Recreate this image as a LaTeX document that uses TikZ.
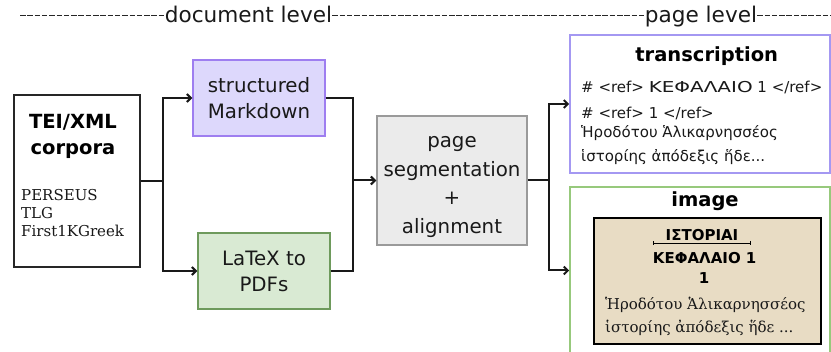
\documentclass[tikz,border=0pt]{standalone}
\usepackage{fontspec}
\usepackage{graphicx}
\setmainfont{DejaVu Sans}
\newfontfamily\serifgr{DejaVu Serif}
\usetikzlibrary{arrows.meta}
\definecolor{mdfill}{HTML}{DDD8FC}
\definecolor{mddraw}{HTML}{9E7EF0}
\definecolor{ltxfill}{HTML}{D9EAD3}
\definecolor{ltxdraw}{HTML}{6E9A5C}
\definecolor{pgfill}{HTML}{EBEBEB}
\definecolor{pgdraw}{HTML}{9A9A9A}
\definecolor{trdraw}{HTML}{A498F2}
\definecolor{imdraw}{HTML}{97C97C}
\definecolor{parchfill}{HTML}{E8DCC4}
\tikzset{
  hdr/.style={font=\fontsize{21.6pt}{24pt}\selectfont, inner sep=0pt, text=black!90},
  hdrdash/.style={line width=1pt, dash pattern=on 5.5pt off 1.8pt, black!85},
  boxtxt/.style={font=\fontsize{19.8pt}{26pt}\selectfont, align=center, text=black!90},
  teibox/.style={draw=black!85, line width=1.4pt, fill=white},
  mdbox/.style={boxtxt, draw=mddraw, line width=1.4pt, fill=mdfill},
  ltxbox/.style={boxtxt, draw=ltxdraw, line width=1.4pt, fill=ltxfill},
  pgbox/.style={draw=pgdraw, line width=1.4pt, fill=pgfill},
  pgtxt/.style={boxtxt, inner sep=0pt, font=\fontsize{19.8pt}{28.5pt}\selectfont},
  trbox/.style={draw=trdraw, line width=1.6pt, fill=white},
  imbox/.style={draw=imdraw, line width=1.6pt, fill=white},
  parch/.style={draw=black, line width=2pt, fill=parchfill},
  ttl/.style={font=\fontsize{19.5pt}{24pt}\selectfont\bfseries, inner sep=0pt},
  body/.style={font=\fontsize{15pt}{18pt}\selectfont, inner sep=0pt, text=black!90},
  serbody/.style={font=\fontsize{15pt}{18pt}\selectfont\serifgr, inner sep=0pt, text=black!90},
  boldbody/.style={font=\fontsize{15pt}{18pt}\selectfont\bfseries, inner sep=0pt},
  conn/.style={line width=2pt, black!90},
  arr/.style={conn, -{Straight Barb[length=4pt,width=8pt]}}
}
\begin{document}
\begin{tikzpicture}[x=1pt,y=-1pt]
\clip (0,0) rectangle (831,352);
% header
\node[hdr, anchor=base] (doc) at (248.5,23) {document level};
\node[hdr, anchor=base] (pgl) at (701,23) {page level};
\coordinate (hL) at (20,16);
\coordinate (hR) at (831,16);
\draw[hdrdash] (hL) -- (hL -| doc.west);
\draw[hdrdash] (hL -| doc.east) -- (hL -| pgl.west);
\draw[hdrdash] (hL -| pgl.east) -- (hR);
% TEI box
\node[teibox, minimum width=126pt, minimum height=172pt] (tei) at (77,181) {};
\node[ttl, anchor=base] (teiA) at (73,128.3) {TEI/XML};
\node[ttl, anchor=base] (teiB) at (73,155) {corpora};
\node[serbody, anchor=base west] (c1) at (21,200.7) {PERSEUS};
\node[serbody, anchor=base west] (c2) at (21,218.3) {TLG};
\node[serbody, anchor=base west] (c3) at (21,236.7) {First1KGreek};
% middle boxes
\node[mdbox, minimum width=132pt, minimum height=76pt] (md) at (259,98) {structured\\Markdown};
\node[ltxbox, minimum width=132pt, minimum height=76pt] (ltx) at (264,271) {LaTeX to\\PDFs};
\node[pgbox, minimum width=150pt, minimum height=129pt] (pg) at (452,180.5) {};
\node[pgtxt] (pgT) at (452,187) {page\\segmentation\\+\\alignment};
% transcription box
\node[trbox, minimum width=260pt, minimum height=138pt] (tr) at (700,104) {};
\node[ttl, anchor=base] (trT) at (706.7,62) {transcription};
\node[body, anchor=base west] (t1) at (581,92.7) {\# <ref> \scalebox{1.33}[1]{ΚΕΦΑΛΑΙΟ} 1 </ref>};
\node[body, anchor=base west] (t2) at (581,118.3) {\# <ref> 1 </ref>};
\node[body, anchor=base west] (t3) at (581,137.5) {Ἡροδότου Ἁλικαρνησσέος};
\node[body, anchor=base west] (t4) at (581,162) {ἱστορίης ἀπόδεξις ἥδε...};
% image box
\node[imbox, minimum width=260pt, minimum height=167pt] (im) at (700,270.5) {};
\node[ttl, anchor=base] (imT) at (705,206.7) {image};
\node[parch, minimum width=227pt, minimum height=126pt] (par) at (707.5,281) {};
\node[boldbody, anchor=base] (i1) at (702,240.3) {ΙΣΤΟΡΙΑΙ};
\coordinate (u1) at (653,243);
\coordinate (u2) at (750.5,243);
\draw[line width=0.9pt, {Bar[width=4pt]}-{Bar[width=4pt]}] (u1) -- (u2);
\node[boldbody, anchor=base] (i2) at (704.7,263.3) {ΚΕΦΑΛΑΙΟ 1};
\node[boldbody, anchor=base] (i3) at (704,284) {1};
\node[serbody, anchor=base west] (i4) at (605,310) {Ἡροδότου Ἁλικαρνησσέος};
\node[serbody, anchor=base west] (i5) at (605,332.7) {ἱστορίης ἀπόδεξις ἥδε ...};
% connectors
\coordinate (s1) at (163,181);
\coordinate (s2) at (353,180.5);
\coordinate (s3) at (549,180.5);
\draw[conn] (tei.east) -- (s1);
\draw[arr] (s1) |- (md.west);
\draw[arr] (s1) |- (ltx.west);
\draw[conn] (md.east) -| (s2);
\draw[conn] (ltx.east) -| (s2);
\draw[arr] (s2) -- (pg.west);
\draw[conn] (pg.east) -- (s3);
\draw[arr] (s3) |- (tr.west);
\draw[arr] (s3) |- (im.west);
\end{tikzpicture}
\end{document}
